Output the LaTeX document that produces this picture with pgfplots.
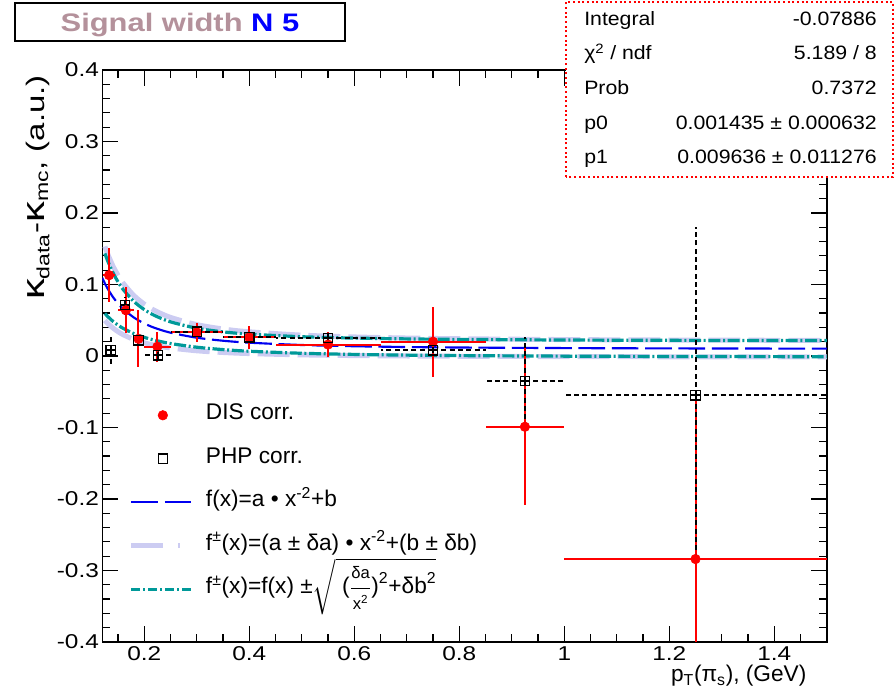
\documentclass[border=0pt]{standalone}
\usepackage{fontspec}
\setmainfont{Liberation Sans}
\newfontfamily\tickfont[FakeStretch=1.22]{Liberation Sans}
\newfontfamily\statfont[FakeStretch=1.1]{Liberation Sans}
\newfontfamily\titlefont[FakeStretch=1.22]{Liberation Sans}
\newfontfamily\ylabfont[FakeStretch=1.3]{Liberation Sans}
\usepackage{amsmath}
\usepackage{pgfplots}
\pgfplotsset{compat=1.18}
\definecolor{lav}{RGB}{204,204,242}
\definecolor{tealc}{RGB}{0,153,153}
\definecolor{titlec}{RGB}{180,145,155}
\definecolor{rootblue}{RGB}{0,0,240}
\pgfplotsset{
  linelegend/.style={legend image code/.code={\draw[##1] (0pt,0pt) -- (47pt,0pt);}},
  marklegend/.style={legend image code/.code={\draw[mark repeat=2,mark phase=2,##1] plot coordinates {(0pt,0pt) (23.5pt,0pt) (47pt,0pt)};}},
}

\pgfplotstableread{
x      y       ex     ey
0.133  0.113   0.012  0.038
0.165  0.064   0.015  0.032
0.189  0.024   0.010  0.040
0.225  0.013   0.025  0.021
0.300  0.033   0.050  0.013
0.400  0.026   0.050  0.016
0.550  0.016   0.100  0.018
0.750  0.020   0.100  0.049
0.925  -0.099  0.075  0.110
1.250  -0.284  0.250  0.232
}\dis

\pgfplotstableread{
x      y       ex     ey
0.136  0.008   0.010  0.019
0.163  0.071   0.015  0.012
0.189  0.022   0.010  0.010
0.226  0.001   0.025  0.008
0.300  0.034   0.050  0.006
0.400  0.026   0.050  0.006
0.550  0.025   0.100  0.007
0.750  0.008   0.100  0.004
0.925  -0.035  0.075  0.061
1.250  -0.055  0.250  0.235
}\php

\begin{document}
\begin{tikzpicture}
\useasboundingbox (0,0) rectangle (670.5pt,524.25pt);
\begin{axis}[
  at={(76.7pt,42.75pt)}, anchor=south west,
  width=543.4pt, height=429pt, scale only axis,
  xmin=0.12, xmax=1.5, ymin=-0.4, ymax=0.4,
  xtick={0.2,0.4,0.6,0.8,1,1.2,1.4},
  xticklabels={0.2,0.4,0.6,0.8,1,1.2,1.4},
  minor xtick={0.15,0.25,0.3,0.35,0.45,0.5,0.55,0.65,0.7,0.75,0.85,0.9,0.95,1.05,1.1,1.15,1.25,1.3,1.35,1.45,1.5},
  ytick={-0.4,-0.3,-0.2,-0.1,0,0.1,0.2,0.3,0.4},
  yticklabels={-0.4,-0.3,-0.2,-0.1,0,0.1,0.2,0.3,0.4},
  minor ytick={-0.38,-0.36,-0.34,-0.32,-0.28,-0.26,-0.24,-0.22,-0.18,-0.16,-0.14,-0.12,-0.08,-0.06,-0.04,-0.02,0.02,0.04,0.06,0.08,0.12,0.14,0.16,0.18,0.22,0.24,0.26,0.28,0.32,0.34,0.36,0.38},
  tick align=inside, xtick pos=both, ytick pos=both,
  major tick length=12pt, minor tick length=6pt,
  every tick/.style={black, line width=0.9pt},
  axis line style={line width=1.1pt},
  ticklabel style={font=\tickfont\fontsize{15}{17}\selectfont},
  yticklabel style={xshift=1pt},
  legend cell align=left,
  legend style={draw=none, fill=none, inner sep=0pt, outer sep=0pt,
    at={(axis description cs:0.0369,0.415)}, anchor=north west,
    row sep=16.6pt,
    nodes={inner sep=0pt, text height=11.5pt, text depth=4.5pt, font=\fontsize{17}{20}\selectfont},
    /tikz/every odd column/.style={column sep=7pt}},
  linelegend,
]
% legend images
\addlegendimage{only marks, mark=*, mark size=3.6pt, red, marklegend}
\addlegendentry{DIS corr.}
\addlegendimage{only marks, mark=square, mark size=3.5pt, black, line width=0.9pt, marklegend}
\addlegendentry{PHP corr.}
\addlegendimage{rootblue, line width=1.6pt, dash pattern=on 20pt off 5pt}
\addlegendentry{f(x)=a • x\textsuperscript{-2}+b}
\addlegendimage{lav, line width=3.75pt, dash pattern=on 24pt off 11pt on 1.5pt off 11pt}
\addlegendentry{f\textsuperscript{±}(x)=(a ± δa) • x\textsuperscript{-2}+(b ± δb)}
\addlegendimage{tealc, line width=2.4pt, dash pattern=on 6.75pt off 2.25pt on 1.5pt off 2.25pt}
\addlegendentry{f\textsuperscript{±}(x)=f(x) ±$\sqrt{\text{ (}\dfrac{\text{\fontsize{12.5}{13}\selectfont δa}}{\text{\fontsize{12.5}{13}\selectfont x\textsuperscript{2}}}\text{)}^{\text{2}}\text{+δb}^{\text{2}}}$}

% lavender band: (a +- da)/x^2 + (b +- db)
\addplot[forget plot, lav, line width=3.75pt, dash pattern=on 24pt off 6pt, smooth] coordinates {
(0.125,0.15320) (0.13,0.14322) (0.14,0.12637) (0.15,0.11278) (0.16,0.10165) (0.18,0.08471) (0.2,0.07259) (0.22,0.06362) (0.25,0.05398) (0.3,0.04388) (0.35,0.03778) (0.4,0.03383) (0.5,0.02918) (0.6,0.02665) (0.7,0.02513) (0.8,0.02414) (1.0,0.02298) (1.2,0.02235) (1.5,0.02183)};
\addplot[forget plot, lav, line width=3.75pt, dash pattern=on 24pt off 6pt, smooth] coordinates {
(0.125,0.04975) (0.13,0.04587) (0.14,0.03933) (0.15,0.03405) (0.16,0.02973) (0.18,0.02314) (0.2,0.01844) (0.22,0.01495) (0.25,0.01121) (0.3,0.00728) (0.35,0.00492) (0.4,0.00338) (0.5,0.00157) (0.6,0.00059) (0.7,0.00000) (0.8,-0.00039) (1.0,-0.00084) (1.2,-0.00108) (1.5,-0.00128)};
% teal band: f +- sqrt((da/x^2)^2 + db^2)
\addplot[forget plot, tealc, line width=2.4pt, dash pattern=on 9pt off 2pt on 1.5pt off 2pt, smooth] coordinates {
(0.125,0.14347) (0.13,0.13361) (0.14,0.11701) (0.15,0.10369) (0.16,0.09283) (0.18,0.07646) (0.2,0.06493) (0.22,0.05654) (0.25,0.04775) (0.3,0.03886) (0.35,0.03375) (0.4,0.03056) (0.5,0.02694) (0.6,0.02504) (0.7,0.02392) (0.8,0.02320) (1.0,0.02236) (1.2,0.02191) (1.5,0.02155)};
\addplot[forget plot, tealc, line width=2.4pt, dash pattern=on 9pt off 2pt on 1.5pt off 2pt, smooth] coordinates {
(0.125,0.05949) (0.13,0.05549) (0.14,0.04869) (0.15,0.04315) (0.16,0.03855) (0.18,0.03140) (0.2,0.02611) (0.22,0.02204) (0.25,0.01745) (0.3,0.01230) (0.35,0.00895) (0.4,0.00666) (0.5,0.00382) (0.6,0.00222) (0.7,0.00122) (0.8,0.00056) (1.0,-0.00022) (1.2,-0.00065) (1.5,-0.00101)};
% fit: a/x^2 + b
\addplot[forget plot, rootblue, line width=1.6pt, dash pattern=on 20pt off 5pt, smooth] coordinates {
(0.12,0.10929) (0.125,0.10148) (0.13,0.09455) (0.14,0.08285) (0.15,0.07342) (0.16,0.06569) (0.18,0.05393) (0.2,0.04552) (0.22,0.03929) (0.25,0.03260) (0.3,0.02558) (0.35,0.02135) (0.4,0.01861) (0.5,0.01538) (0.6,0.01363) (0.7,0.01257) (0.8,0.01188) (1.0,0.01107) (1.2,0.01063) (1.5,0.01027)};

% DIS
\addplot[forget plot, only marks, mark=*, mark size=3.6pt, red,
  error bars/.cd, x dir=both, x explicit, y dir=both, y explicit, error mark=none,
  error bar style={line width=1.5pt, red}]
  table[x=x, y=y, x error=ex, y error=ey] {\dis};
% PHP
\addplot[forget plot, only marks, mark=square, mark size=3.5pt, black, mark options={line width=0.9pt, solid},
  error bars/.cd, x dir=both, x explicit, y dir=both, y explicit, error mark=none,
  error bar style={line width=1.5pt, black, dash pattern=on 3.75pt off 2.5pt}]
  table[x=x, y=y, x error=ex, y error=ey] {\php};
\end{axis}

% stats box
\draw[red, line width=1.5pt, dotted, fill=white] (424.5pt,391.5pt) rectangle (669.75pt,522.75pt);
\begin{scope}[every node/.style={inner sep=0pt, font=\statfont\fontsize{14.5}{17}\selectfont}]
\node[anchor=base west] at (438pt,504.75pt) {Integral};
\node[anchor=base east] at (657.75pt,504.75pt) {-0.07886};
\node[anchor=base west] at (438pt,479.25pt) {χ\textsuperscript{2} / ndf};
\node[anchor=base east] at (657.75pt,479.25pt) {5.189 / 8};
\node[anchor=base west] at (438pt,453pt) {Prob};
\node[anchor=base east] at (657.75pt,453pt) {0.7372};
\node[anchor=base west] at (438pt,427.3pt) {p0};
\node[anchor=base east] at (657.75pt,427.3pt) {0.001435 ± 0.000632};
\node[anchor=base west] at (438pt,401.25pt) {p1};
\node[anchor=base east] at (657.75pt,401.25pt) {0.009636 ± 0.011276};
\end{scope}

% title box
\draw[black, line width=0.8pt, fill=white] (11.25pt,493.5pt) rectangle (258.75pt,522pt);
\node[anchor=base, inner sep=0pt, font=\titlefont\bfseries\fontsize{19}{22}\selectfont] at (135pt,500.5pt) {\textcolor{titlec}{Signal width} \textcolor{blue}{N 5}};

% axis titles
\node[anchor=base east, inner sep=0pt, font=\fontsize{17}{20}\selectfont] at (605pt,13pt) {p\textsubscript{T}(π\textsubscript{s}), (GeV)};
\node[anchor=east, rotate=90, inner sep=0pt, font=\ylabfont\fontsize{19}{22}\selectfont] at (28.5pt,468pt) {{\fontsize{24}{24}\selectfont κ}\textsubscript{data}-{\fontsize{24}{24}\selectfont κ}\textsubscript{mc}, (a.u.)};
\end{tikzpicture}
\end{document}
